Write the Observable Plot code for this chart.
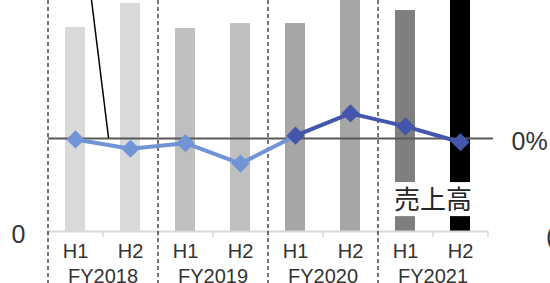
<!DOCTYPE html>
<html><head><meta charset="utf-8">
<script src="https://cdn.jsdelivr.net/npm/d3@7"></script>
<script src="https://cdn.jsdelivr.net/npm/@observablehq/plot@0.6"></script>
<style>html,body{margin:0;padding:0;background:#fff;overflow:hidden}</style>
</head><body><div id="chart"></div>
<script>
// ---- data ----
const years = ["FY2018", "FY2019", "FY2020", "FY2021"];
const halves = ["H1", "H2", "H1", "H2", "H1", "H2", "H1", "H2"];
const periods = ["FY2018 H1", "FY2018 H2", "FY2019 H1", "FY2019 H2", "FY2020 H1", "FY2020 H2", "FY2021 H1", "FY2021 H2"];
const sales = [109.7, 122.6, 109.1, 111.8, 111.8, 130, 118.8, 135];      // left axis (sales)
const growth = [-0.1, -1.1, -0.5, -2.7, 0.3, 2.7, 1.3, -0.4];            // right axis (%)
const leftTicks = [0];
const rightTicks = [0];
const rightTickLabels = ["0%"];
const rightPartialTicks = [-10];
const rightPartialLabels = ["(10%)"];
const seriesLabel = "売上高";

// ---- styles ----
const barColors = ["#d9d9d9", "#d9d9d9", "#bfbfbf", "#bfbfbf", "#a6a6a6", "#a6a6a6", "#7f7f7f", "#000000"];
const lightBlue = "#7094d6";
const darkBlue = "#4356ab";
const yTop = 124.19;
// secondary (percent) axis mapped onto the primary y units
const pctToY = d3.scaleLinear().domain([-10, 0]).range([0, 50]);

const rows = periods.map((p, i) => ({period: p, half: halves[i], sales: sales[i], growth: growth[i], gy: pctToY(growth[i])}));
const lightRows = rows.slice(0, 5);
const darkRows = rows.slice(4);

const chart = Plot.plot({
  width: 550, height: 283,
  marginTop: 0, marginBottom: 52, marginLeft: 48, marginRight: 62,
  x: {type: "band", domain: periods, paddingInner: 0.636, paddingOuter: 0.318, axis: null},
  y: {domain: [0, yTop], axis: null},
  color: {domain: periods, range: barColors},
  style: {fontFamily: "'Liberation Sans', Arial, sans-serif", background: "#fff", color: "#333", overflow: "visible"},
  marks: [
    Plot.barY(rows, {x: "period", y: "sales", fill: "period", clip: true}),
    Plot.barY(periods.slice(6), {x: d => d, y1: 8, y2: 26.3, fill: "white"}),
    Plot.text([seriesLabel], {x: () => periods[6], y: () => 16.7, dx: 27.5, text: d => d, fontSize: 26,
      fontFamily: "'Noto Sans CJK JP', sans-serif", fill: "#262626"}),
    Plot.ruleY([0], {stroke: "#d9d9d9", strokeWidth: 2}),
    Plot.ruleX(periods, {x: d => d, dx: -27.5, insetTop: 231, insetBottom: -6, stroke: "#d9d9d9", strokeWidth: 1.5}),
    Plot.ruleX([periods[7]], {x: d => d, dx: 27.5, insetTop: 231, insetBottom: -6, stroke: "#d9d9d9", strokeWidth: 1.5}),
    Plot.ruleX(periods.filter((_, i) => i % 2 === 0), {x: d => d, dx: -27.5, insetBottom: -52, stroke: "#1a1a1a", strokeDasharray: "4,3", strokeWidth: 1.2}),
    Plot.ruleY([pctToY(0)], {stroke: "#595959", strokeWidth: 2, insetRight: -5}),
    Plot.line(lightRows, {x: "period", y: "gy", stroke: lightBlue, strokeWidth: 4}),
    Plot.line(darkRows, {x: "period", y: "gy", stroke: darkBlue, strokeWidth: 4}),
    Plot.dot(rows.slice(0, 4), {x: "period", y: "gy", symbol: "diamond2", r: 8.2, fill: lightBlue, stroke: null}),
    Plot.dot(rows.slice(4), {x: "period", y: "gy", symbol: "diamond2", r: 8.2, fill: darkBlue, stroke: null}),
    Plot.text(rows, {x: "period", text: "half", frameAnchor: "bottom", lineAnchor: "bottom", dy: 26, fontSize: 20}),
    Plot.text(years, {x: d => d + " H1", text: d => d, dx: 27.5, frameAnchor: "bottom", lineAnchor: "bottom", dy: 51, fontSize: 20}),
    Plot.text(leftTicks, {y: d => d, text: d => String(d), frameAnchor: "left", dx: -23, textAnchor: "end", lineAnchor: "bottom", dy: 11, fontSize: 25}),
    Plot.text(rightTicks, {y: d => pctToY(d), text: (d, i) => rightTickLabels[i], frameAnchor: "right", dx: 23, textAnchor: "start", lineAnchor: "bottom", dy: 12, fontSize: 25}),
    Plot.text(rightPartialTicks, {y: d => pctToY(d), text: (d, i) => rightPartialLabels[i], frameAnchor: "right", dx: 57.5, textAnchor: "start", lineAnchor: "bottom", dy: 13, fontSize: 25})
  ]
});

// leader line of an annotation (positions derived from the chart's scales)
const sx = chart.scale("x"), sy = chart.scale("y");
const c0 = sx.apply(periods[0]) + sx.bandwidth / 2;
const step = sx.apply(periods[1]) - sx.apply(periods[0]);
d3.select(chart).append("line")
  .attr("x1", c0 + 0.3 * step).attr("y1", sy.apply(yTop))
  .attr("x2", c0 + 0.61 * step).attr("y2", sy.apply(pctToY(0)))
  .attr("stroke", "#000").attr("stroke-width", 1.5);

document.getElementById("chart").appendChild(chart);
</script>
</body></html>
